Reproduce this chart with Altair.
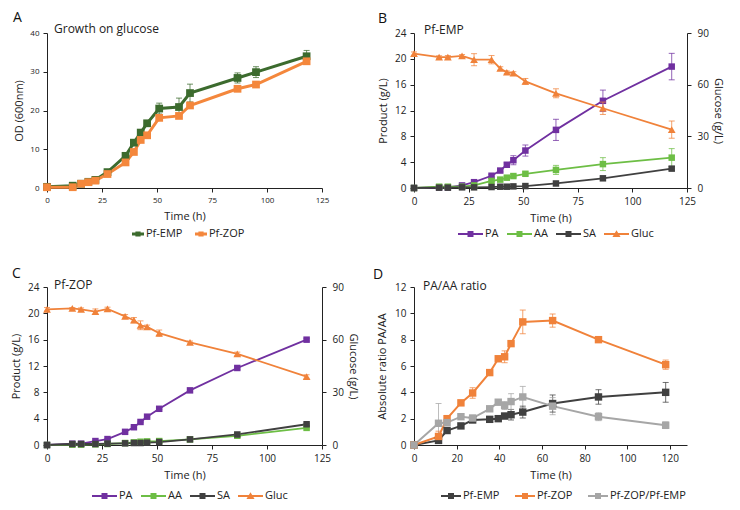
import altair as alt
import pandas as pd

FONT = "Open Sans"

# ---------------- data ----------------
# Panel A: growth (OD600)
time_a = [0, 11.7, 15.5, 18.8, 22, 27.5, 35.7, 39.5, 42.6, 45.5, 51, 60, 65, 86.6, 95, 118]
od_emp = [0.3, 0.6, 1.1, 1.6, 2.1, 4.1, 8.3, 11.7, 14.3, 16.7, 20.5, 20.9, 24.5, 28.4, 29.9, 34.0]
od_emp_err = [0.1, 0.2, 0.2, 0.2, 0.2, 0.3, 0.5, 0.6, 0.6, 0.7, 1.4, 2.3, 2.3, 1.3, 1.4, 1.5]
od_zop = [0.2, 0.2, 1.1, 1.5, 1.9, 3.6, 6.6, 9.3, 12.4, 13.6, 18.1, 18.6, 21.3, 25.6, 26.7, 32.7]
od_zop_err = [0.1, 0.1, 0.2, 0.2, 0.2, 0.2, 0.3, 0.4, 0.4, 0.4, 0.4, 0.4, 0.4, 0.4, 0.4, 0.5]
names_a = ["Pf-EMP", "Pf-ZOP"]

# Panels B / C: products and glucose
time_bc = [0, 11.5, 15.5, 22, 27.5, 35.5, 39.5, 42.5, 45.5, 51, 65, 86.5, 118]
names_bc = ["PA", "AA", "SA", "Gluc"]

pa_b = [0, 0.1, 0.1, 0.4, 0.9, 1.9, 2.7, 3.6, 4.3, 5.8, 9.0, 13.5, 18.8]
pa_b_err = [0, 0, 0, 0.1, 0.1, 0.2, 0.2, 0.3, 0.7, 0.86, 1.64, 1.66, 2.05]
aa_b = [0, 0.2, 0.2, 0.2, 0.4, 1.1, 1.3, 1.6, 1.85, 2.2, 2.8, 3.7, 4.7]
aa_b_err = [0, 0, 0, 0, 0.1, 0.1, 0.1, 0.2, 0.2, 0.3, 0.7, 1.0, 1.4]
sa_b = [0, 0.05, 0.05, 0.1, 0.1, 0.15, 0.2, 0.2, 0.25, 0.3, 0.7, 1.5, 3.0]
sa_b_err = [0, 0, 0, 0, 0, 0, 0, 0, 0, 0.05, 0.1, 0.2, 0.3]
gluc_b = [78.0, 76.0, 76.0, 76.7, 74.5, 74.5, 69.4, 67.2, 66.7, 61.9, 55.0, 46.3, 33.9]
gluc_b_err = [1.0, 0.8, 1.0, 0.8, 3.5, 2.4, 1.0, 0.8, 0.8, 1.7, 2.6, 3.6, 5.0]

pa_c = [0, 0.2, 0.2, 0.6, 0.9, 2.0, 2.7, 3.5, 4.3, 5.5, 8.3, 11.7, 16.0]
pa_c_err = [0, 0, 0, 0.05, 0.05, 0.1, 0.1, 0.1, 0.1, 0.1, 0.15, 0.2, 0.2]
aa_c = [0, 0.05, 0.05, 0.1, 0.15, 0.3, 0.4, 0.5, 0.55, 0.6, 0.85, 1.4, 2.6]
aa_c_err = [0, 0, 0, 0, 0, 0.05, 0.05, 0.05, 0.05, 0.05, 0.1, 0.1, 0.15]
sa_c = [0, 0.15, 0.15, 0.15, 0.2, 0.25, 0.3, 0.3, 0.35, 0.45, 0.85, 1.6, 3.15]
sa_c_err = [0, 0, 0, 0, 0, 0, 0, 0, 0, 0.05, 0.1, 0.1, 0.15]
gluc_c = [77.3, 77.8, 77.3, 76.0, 77.5, 73.3, 71.1, 68.2, 67.3, 63.7, 58.4, 51.9, 39.0]
gluc_c_err = [1.0, 0.5, 0.8, 1.5, 1.0, 1.0, 1.5, 2.5, 1.0, 1.8, 0.8, 1.0, 1.0]

# Panel D: PA/AA ratio
time_d = [0, 11.5, 15.5, 22, 27.5, 35.5, 39.5, 42.5, 45.5, 51, 65, 86.5, 118]
names_d = ["Pf-EMP", "Pf-ZOP", "Pf-ZOP/Pf-EMP"]
ratio_emp = [0, 0.35, 1.1, 1.45, 1.9, 1.95, 2.0, 2.2, 2.3, 2.5, 3.15, 3.65, 4.0]
ratio_emp_err = [0, 0.1, 0.15, 0.1, 0.1, 0.1, 0.1, 0.2, 0.4, 0.45, 0.65, 0.55, 0.75]
ratio_zop = [0, 0.65, 2.0, 3.2, 3.95, 5.5, 6.55, 6.7, 7.7, 9.35, 9.45, 8.0, 6.1]
ratio_zop_err = [0, 0.4, 0.1, 0.2, 0.4, 0.1, 0.2, 0.45, 0.1, 0.9, 0.5, 0.15, 0.35]
ratio_rel = [0, 1.65, 1.7, 2.15, 2.05, 2.75, 3.25, 3.0, 3.3, 3.65, 2.95, 2.15, 1.5]
ratio_rel_err = [0, 1.5, 0.2, 0.1, 0.1, 0.1, 0.15, 0.3, 0.6, 0.8, 0.65, 0.3, 0.25]

# ---------------- style ----------------
col_a = ["#3C6B2E", "#F4873C"]
col_bc = ["#7030A0", "#6DBE45", "#404040", "#F0823A"]
col_d = ["#404040", "#F0823A", "#A6A6A6"]


def long_df(t, names, vals, errs):
    rows = []
    for n, vs, es in zip(names, vals, errs):
        for ti, v, e in zip(t, vs, es):
            rows.append({"series": n, "t": ti, "v": v, "lo": v - e, "hi": v + e})
    return pd.DataFrame(rows)


def legend_path(kind, L, th_px=1.0, m_px=3.0, r=6.0):
    """Legend glyph '-marker-' of length L px; unit = r px, glyph centred at L/2."""
    x0, x1 = -1.0, (L - r) / r
    cx = (L / 2 - r) / r
    th, m = th_px / r, m_px / r
    bar = f"M{x0:.3f},{-th:.3f}H{x1:.3f}V{th:.3f}H{x0:.3f}Z"
    if kind == "square":
        mk = f"M{cx - m:.3f},{-m:.3f}H{cx + m:.3f}V{m:.3f}H{cx - m:.3f}Z"
    else:
        w, h1, h2 = m * 1.35, m * 1.25, m * 1.0
        mk = f"M{cx:.3f},{-h1:.3f}L{cx + w:.3f},{h2:.3f}H{cx - w:.3f}Z"
    return bar + mk


def axis(values, lab_size, title_size, orient=None, label_pad=4, title_pad=6):
    kw = dict(values=values, grid=False, domainColor="#222", tickColor="#222",
              labelFont=FONT, titleFont=FONT, labelColor="#222", titleColor="#222",
              titleFontWeight="normal", labelFontSize=lab_size, titleFontSize=title_size,
              tickSize=4, labelPadding=label_pad, titlePadding=title_pad,
              labelFlush=False, labelOverlap=False)
    if orient:
        kw["orient"] = orient
    return alt.Axis(**kw)


def series_layers(df, domain, colors, X, ys, yax, ytitle, shape, size, sw, cap=6, err_op=0.75):
    # colour scale listed in reverse order (same mapping) so that its hidden legend
    # is not merged with the visible fill/shape legend below
    cs = alt.Scale(domain=domain[::-1], range=colors[::-1])
    col = alt.Color("series:N", scale=cs, legend=None)

    def Y(f):
        return alt.Y(f"{f}:Q", scale=ys, axis=yax, title=ytitle)

    base = alt.Chart(df)
    err = base.transform_filter("datum.hi > datum.lo")
    rule = err.mark_rule(strokeWidth=1, opacity=err_op).encode(x=X, y=Y("lo"), y2=alt.Y2("hi:Q"), color=col)
    caps = (err.transform_fold(["lo", "hi"], as_=["which", "cap"])
            .mark_tick(orient="horizontal", size=cap, thickness=1, opacity=err_op)
            .encode(x=X, y=Y("cap"), color=col))
    line = base.mark_line(strokeWidth=sw).encode(x=X, y=Y("v"), color=col)
    pts = base.mark_point(shape=shape, filled=True, size=size, opacity=1).encode(x=X, y=Y("v"), color=col)
    return [rule, caps, line, pts]


def legend_layer(domain, colors, kinds, X, ys, yax, ytitle, lx, ly, L, colpad, th_px=1.0, m_px=3.0):
    n = len(domain)
    df = pd.DataFrame({"series": domain, "t": [-60] * n, "v": [0] * n})
    paths = [legend_path(k, L, th_px, m_px) for k in kinds]
    leg = alt.Legend(orient="none", legendX=lx, legendY=ly, direction="horizontal", title=None,
                     symbolSize=144, symbolStrokeWidth=0, symbolOpacity=1,
                     labelFont=FONT, labelFontSize=11, labelColor="#222", labelOffset=L - 10,
                     columnPadding=colpad)
    return alt.Chart(df).mark_point(filled=True, clip=True).encode(
        x=X,
        y=alt.Y("v:Q", scale=ys, axis=yax, title=ytitle),
        fill=alt.Fill("series:N", scale=alt.Scale(domain=domain, range=colors), legend=leg),
        shape=alt.Shape("series:N", scale=alt.Scale(domain=domain, range=paths), legend=leg),
    )


def text_layer(label, x, y):
    return alt.Chart(pd.DataFrame({"label": [label]})).mark_text(
        align="left", baseline="middle", font=FONT, fontSize=12, color="#222"
    ).encode(x=alt.value(x), y=alt.value(y), text="label:N")


def letter(ch, dx):
    return alt.Title(ch, anchor="start", frame="group", dx=dx, offset=-2, fontSize=14,
                     fontWeight="normal", font=FONT, color="#111")


# ---------------- panel A ----------------
W1, W2, H1, H2 = 275, 273, 155, 158
xa = alt.X("t:Q", scale=alt.Scale(domain=[0, 125], nice=False),
           axis=axis([0, 25, 50, 75, 100, 125], 8, 11), title="Time (h)")
ys_a = alt.Scale(domain=[0, 40], nice=False)
yax_a = axis([0, 10, 20, 30, 40], 8, 11, title_pad=5)
df_a = long_df(time_a, names_a, [od_emp, od_zop], [od_emp_err, od_zop_err])
panel_a = alt.layer(
    *series_layers(df_a, names_a, col_a, xa, ys_a, yax_a, "OD (600nm)", "square", 60, 3),
    legend_layer(names_a, col_a, ["square", "square"], xa, ys_a, yax_a, "OD (600nm)",
                 85, 195, 12, 12, th_px=1.5, m_px=2.6),
    text_layer("Growth on glucose", 7, -4.5),
).properties(width=W1, height=H1, title=letter("A", -34))


# ---------------- panels B / C ----------------
def product_panel(vals, errs, gluc, gluc_err, label, ch, W, H, lx, ly, tx, ty, dx):
    xs = alt.X("t:Q", scale=alt.Scale(domain=[0, 125], nice=False),
               axis=axis([0, 25, 50, 75, 100, 125], 10, 11), title="Time (h)")
    ys_l = alt.Scale(domain=[0, 24], nice=False)
    yax_l = axis([0, 4, 8, 12, 16, 20, 24], 10, 11, title_pad=6)
    ys_r = alt.Scale(domain=[0, 90], nice=False)
    yax_r = axis([0, 30, 60, 90], 10, 11, orient="right", label_pad=6, title_pad=4)
    df_p = long_df(time_bc, names_bc[:3], vals, errs)
    df_g = long_df(time_bc, names_bc[3:], [gluc], [gluc_err])
    left = alt.layer(
        *series_layers(df_p, names_bc, col_bc, xs, ys_l, yax_l, "Product (g/L)", "square", 42, 1.8),
        legend_layer(names_bc, col_bc, ["square", "square", "square", "triangle"], xs, ys_l, yax_l,
                     "Product (g/L)", lx, ly, 25, 8),
    )
    right = alt.layer(
        *series_layers(df_g, names_bc, col_bc, xs, ys_r, yax_r, "Glucose (g/L)", "triangle-up", 60, 1.8),
    )
    return alt.layer(left, right, text_layer(label, tx, ty)).resolve_scale(y="independent").properties(
        width=W, height=H, title=letter(ch, dx))


panel_b = product_panel([pa_b, aa_b, sa_b], [pa_b_err, aa_b_err, sa_b_err], gluc_b, gluc_b_err,
                        "Pf-EMP", "B", W2, H1, 44, 195, 10, -3.5, -36)
panel_c = product_panel([pa_c, aa_c, sa_c], [pa_c_err, aa_c_err, sa_c_err], gluc_c, gluc_c_err,
                        "Pf-ZOP", "C", W1, H2, 45, 203, 7, -2.5, -35)

# ---------------- panel D ----------------
xd = alt.X("t:Q", scale=alt.Scale(domain=[0, 128], nice=False),
           axis=axis([0, 20, 40, 60, 80, 100, 120], 10, 11), title="Time (h)")
ys_d = alt.Scale(domain=[0, 12], nice=False)
yax_d = axis([0, 2, 4, 6, 8, 10, 12], 10, 11, title_pad=7)
df_d = long_df(time_d, names_d, [ratio_emp, ratio_zop, ratio_rel],
               [ratio_emp_err, ratio_zop_err, ratio_rel_err])
panel_d = alt.layer(
    *series_layers(df_d, names_d, col_d, xd, ys_d, yax_d, "Absolute ratio PA/AA", "square", 55, 2),
    legend_layer(names_d, col_d, ["square"] * 3, xd, ys_d, yax_d, "Absolute ratio PA/AA",
                 27, 203, 20, 15),
    text_layer("PA/AA ratio", 9, -1),
).properties(width=W2, height=H2, title=letter("D", -41))

chart = alt.concat(
    panel_a, panel_b, panel_c, panel_d,
    columns=2, spacing={"row": 99, "column": 92}, bounds="flush",
).resolve_scale(color="independent", fill="independent", shape="independent").properties(
    padding={"top": 2, "right": 4, "left": 2, "bottom": 0}).configure_view(stroke=None)

chart.save("out.html", embed_options={"renderer": "svg", "actions": False})
